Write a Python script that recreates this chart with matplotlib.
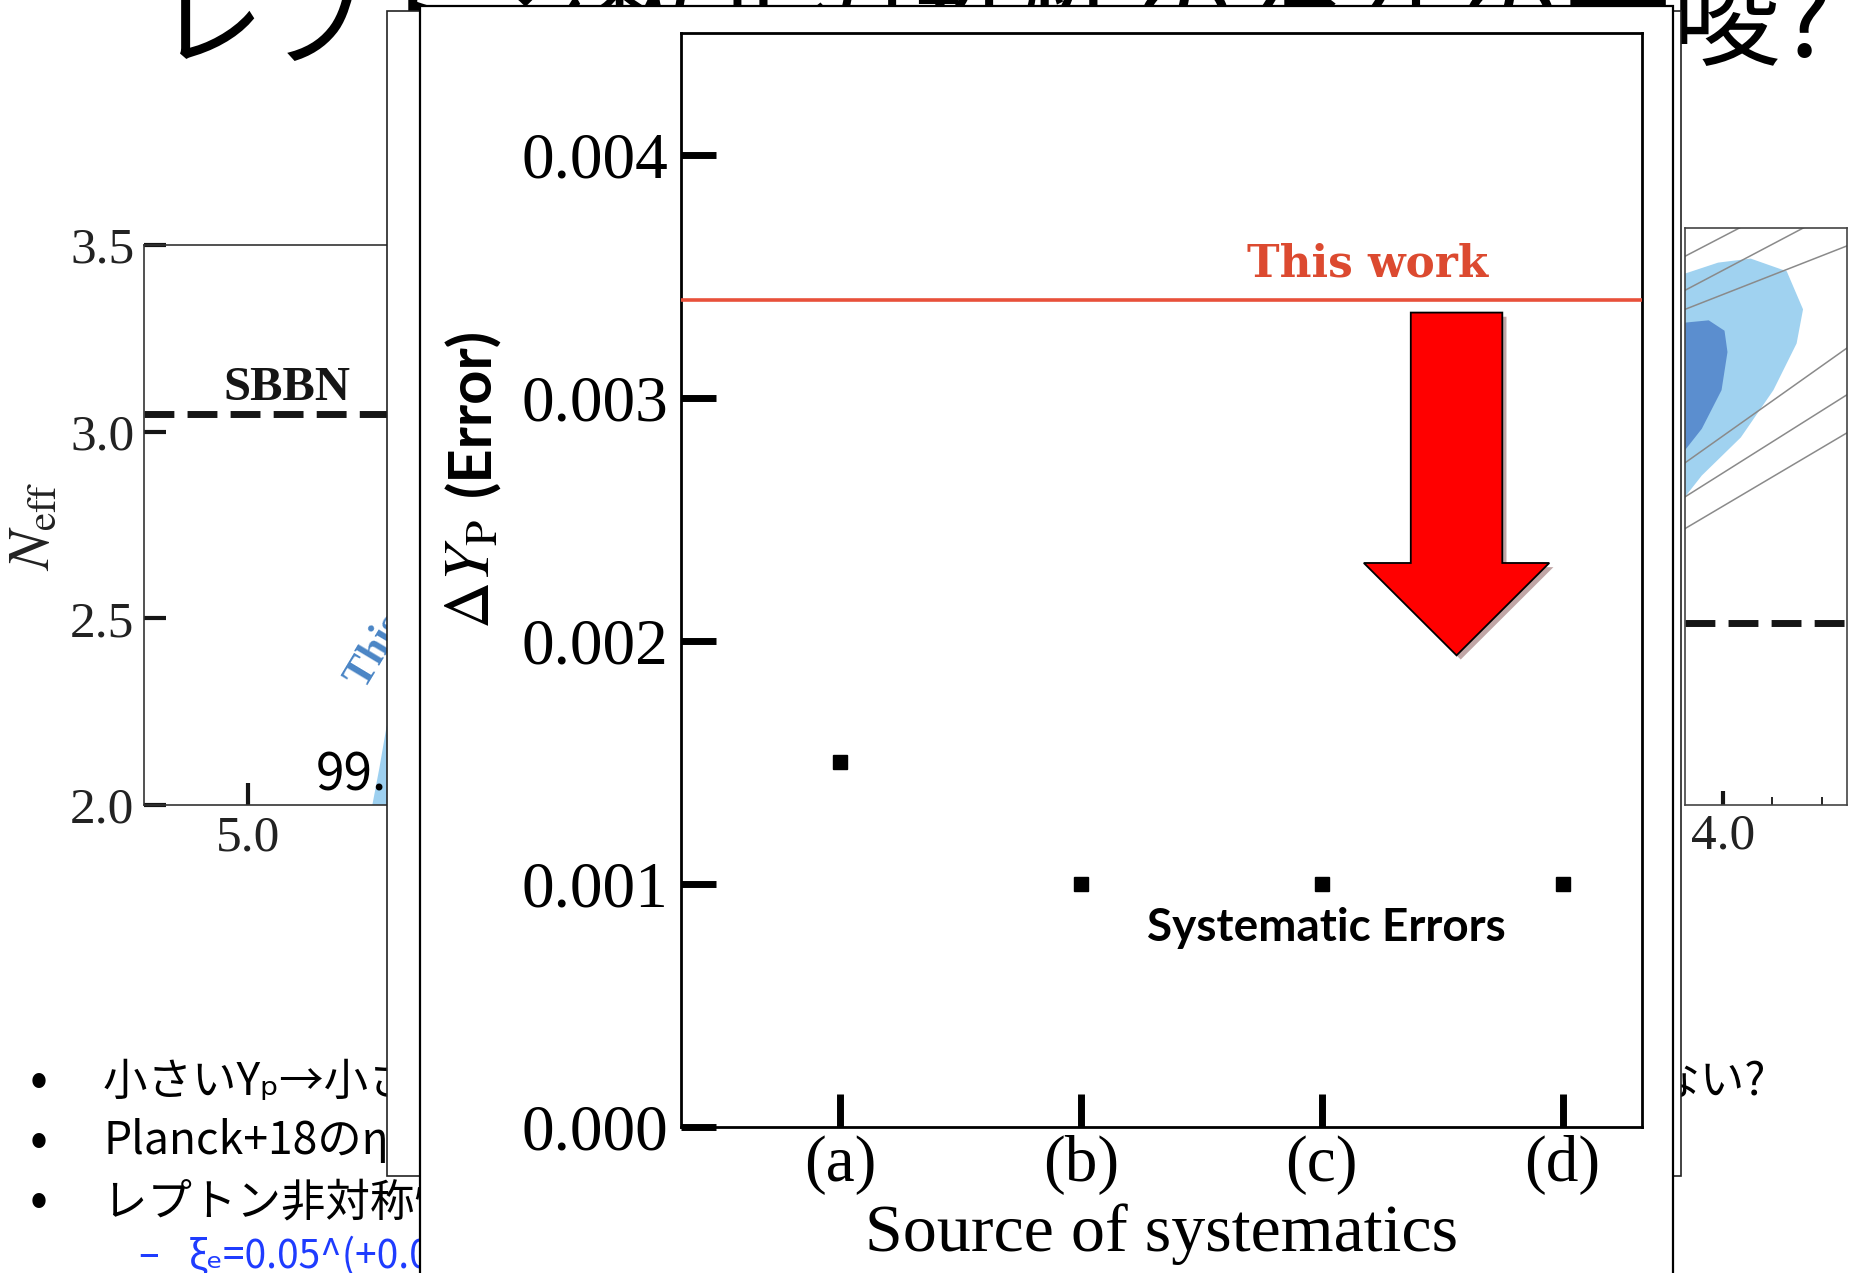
import matplotlib
matplotlib.use('Agg')
import matplotlib.pyplot as plt
import matplotlib.patches as mpatches
import matplotlib.patheffects as pe

plt.rcParams['font.family'] = ['Liberation Serif', 'DejaVu Serif']
plt.rcParams['mathtext.fontset'] = 'stix'
JP = ['Noto Sans CJK JP', 'DejaVu Sans']

W, H = 1854, 1273

# systematic error budget (inset)
sources = ['(a)', '(b)', '(c)', '(d)']
source_pos = [1, 2, 3, 4]
sys_errors = [0.0015, 0.0010, 0.0010, 0.0010]
this_work_err = 0.0034
err_ticks = [0.000, 0.001, 0.002, 0.003, 0.004]

# big red arrow, data units of the inset
arrow_x = 3.56
arrow_top = 0.00335
arrow_tip = 0.00194
arrow_width = 0.38
arrow_head_width = 0.77
arrow_head_len = 0.00038

# N_eff panel underneath
neff_ticks = [2.0, 2.5, 3.0, 3.5]
neff_sbbn = 3.046
eta_ticks = [5.0, 6.0, 7.0]
region_eta = [5.35, 5.37, 5.39, 5.45, 5.60, 6.00, 6.60, 6.60]
region_neff = [2.00, 2.10, 2.21, 2.30, 2.40, 2.50, 2.55, 2.00]

# right-hand contour panel
xi_major = [4.0]
xi_minor = [4.1, 4.2]
outer_x = [3.825, 3.923, 3.990, 4.056, 4.129, 4.162, 4.149, 4.102, 4.036, 3.957, 3.923, 3.825]
outer_y = [0.940, 0.921, 0.940, 0.947, 0.925, 0.859, 0.800, 0.719, 0.637, 0.571, 0.534, 0.450]
inner_x = [3.825, 3.923, 3.971, 4.003, 4.009, 3.997, 3.957, 3.923, 3.825]
inner_y = [0.850, 0.836, 0.840, 0.822, 0.785, 0.719, 0.652, 0.615, 0.550]
grid_left = [0.951, 0.892, 0.859, 0.593, 0.534, 0.479]
grid_right = [1.097, 1.040, 0.969, 0.792, 0.711, 0.645]
right_sbbn = 0.315

title = 'レプトン数非対称性の存在の示唆?'
bullets = [
    '小さいYₚ→小さいNeff? 標準ビッグバン元素合成(SBBN)の予言とは全く整合しない?',
    'Planck+18のηと組み合わせると',
    'レプトン非対称性 ξₑ≠0',
]
sub_bullet = 'ξₑ=0.05^(+0.03)_(−0.03)'


def fx(px):
    return px / W


def fy(py):
    return 1 - py / H


def box(x0, y0, x1, y1):
    return [fx(x0), fy(y1), (x1 - x0) / W, (y1 - y0) / H]


fig = plt.figure(figsize=(W / 100, H / 100), dpi=100)
fig.patch.set_facecolor('white')

# slide title and bullet text
fig.text(fx(156), fy(57), title, family=JP, fontsize=78, ha='left', va='baseline', zorder=2)
for y, line in zip([1082, 1141, 1202], bullets):
    fig.text(fx(30), fy(y), '•', family=JP, fontsize=38, va='center', zorder=2)
    fig.text(fx(103), fy(y), line, family=JP, fontsize=32, va='center', zorder=2)
fig.text(fx(138), fy(1256), '–', family=JP, fontsize=28, color='#1f3cff', va='center', zorder=2)
fig.text(fx(189), fy(1256), sub_bullet, family=JP, fontsize=28, color='#1f3cff', va='center', zorder=2)

# left background panel: N_eff vs eta
axL = fig.add_axes(box(144, 245, 1182, 805), zorder=1)
axL.set_xlim(4.707, 7.63)
axL.set_ylim(2.0, 3.5)
axL.fill(region_eta, region_neff, color='#9dd0f0', lw=0)
axL.axhline(neff_sbbn, color='#151515', lw=5, linestyle=(0, (4.3, 1.9)))
axL.text(5.11, 3.117, 'SBBN', fontsize=35, weight='bold', ha='center', va='center', color='#151515')
axL.text(5.33, 2.308, 'This work', fontsize=30, weight='bold', color='#4a85c5',
         rotation=59, rotation_mode='anchor', ha='left', va='baseline')
axL.text(5.19, 2.078, '99.7%', family=JP, fontsize=37, ha='left', va='center')
axL.set_yticks(neff_ticks)
axL.set_yticklabels([f'{v:.1f}' for v in neff_ticks])
axL.set_xticks(eta_ticks)
axL.set_xticklabels([f'{v:.1f}' for v in eta_ticks])
axL.tick_params(direction='in', length=16, width=3, labelsize=37, pad=7,
                top=False, right=False, color='#151515', labelcolor='#222')
for s in axL.spines.values():
    s.set_color('#333')
    s.set_linewidth(1.2)
fig.text(fx(35), fy(526), r'$N_{\rm eff}$', fontsize=42, rotation=90,
         ha='center', va='center', color='#222', zorder=2)

# right background panel: contours
axR = fig.add_axes(box(1685, 228, 1847, 805), zorder=1)
axR.set_xlim(3.923, 4.251)
axR.set_ylim(0, 1)
axR.fill(outer_x, outer_y, color='#a0d2f0', lw=0)
axR.fill(inner_x, inner_y, color='#5b8ecf', lw=0)
for yl, yr in zip(grid_left, grid_right):
    axR.plot([3.923, 4.251], [yl, yr], color='#8a8a8a', lw=1.1)
axR.axhline(right_sbbn, color='#151515', lw=5, linestyle=(0, (4.3, 1.9)))
axR.set_xticks(xi_major)
axR.set_xticklabels([f'{v:.1f}' for v in xi_major])
axR.set_xticks(xi_minor, minor=True)
axR.set_yticks([])
axR.tick_params(which='major', direction='in', length=10, width=3, labelsize=37, pad=6,
                top=False, color='#151515', labelcolor='#222')
axR.tick_params(which='minor', direction='in', length=6, width=1.2, top=False)
for s in axR.spines.values():
    s.set_color('#444')
    s.set_linewidth(1.2)

# pasted panels on top
fig.add_artist(mpatches.Rectangle((fx(387), fy(1176)), (1681 - 387) / W, (1176 - 11) / H,
                                  transform=fig.transFigure, fc='white', ec='#222',
                                  lw=1.2, zorder=5))
fig.add_artist(mpatches.Rectangle((fx(420), fy(1290)), (1673 - 420) / W, (1290 - 6) / H,
                                  transform=fig.transFigure, fc='white', ec='black',
                                  lw=1.6, zorder=6, clip_on=False))

# inset: error on Y_P by source of systematics
ax = fig.add_axes(box(681, 33, 1642, 1127), zorder=7)
ax.set_xlim(0.34, 4.33)
ax.set_ylim(0, 0.0045)
ax.plot(source_pos, sys_errors, 's', color='black', ms=10, zorder=4)
ax.axhline(this_work_err, color='#e8503a', lw=2.6, zorder=3)
ax.text(3.19, 0.00355, 'This work', family='DejaVu Serif', weight='bold', fontsize=31.5,
        color='#dc4a30', ha='center', va='center')
ax.text(3.02, 0.00082, 'Systematic Errors', family='Lato', weight='bold', fontsize=33,
        color='black', ha='center', va='center')

arrow = mpatches.FancyArrow(arrow_x, arrow_top, 0, arrow_tip - arrow_top,
                            width=arrow_width, head_width=arrow_head_width,
                            head_length=arrow_head_len, length_includes_head=True,
                            fc='#ff0000', ec='black', lw=1.3, zorder=5)
arrow.set_path_effects([pe.SimplePatchShadow(offset=(3, -3), alpha=0.35), pe.Normal()])
ax.add_patch(arrow)

ax.set_yticks(err_ticks)
ax.set_yticklabels([f'{v:.3f}' for v in err_ticks])
ax.set_xticks(source_pos)
ax.set_xticklabels(sources)
ax.tick_params(axis='y', direction='in', length=25, width=5, labelsize=47, pad=9,
               right=False)
ax.tick_params(axis='x', direction='in', length=24, width=5, labelsize=47, pad=6,
               top=False)
for s in ax.spines.values():
    s.set_linewidth(2)
ax.set_xlabel('Source of systematics', fontsize=49, labelpad=6)

fig.text(fx(474), fy(574), r'$\Delta Y_{\rm P}$', fontsize=47, rotation=90,
         ha='center', va='center', zorder=8)
fig.text(fx(472), fy(412), '(Error)', family='Lato', weight='bold', fontsize=43,
         rotation=90, ha='center', va='center', zorder=8)

fig.savefig('out.png', dpi=100, facecolor='white')
